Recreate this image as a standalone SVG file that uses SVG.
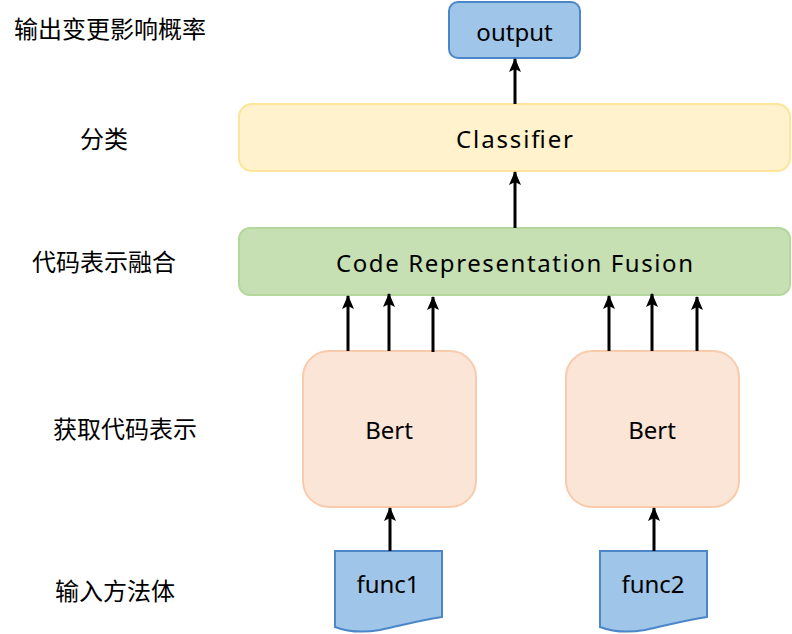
<svg xmlns="http://www.w3.org/2000/svg" width="792" height="634" viewBox="0 0 792 634">
<defs>
<marker id="ah" markerWidth="14" markerHeight="12" refX="13" refY="6" orient="auto" markerUnits="userSpaceOnUse" viewBox="0 0 14 12">
<path d="M0,0 L14,6 L0,12 L3,6 Z" fill="#000"/>
</marker>
<style>
.lbl{font-family:"Noto Sans CJK SC","Noto Sans",sans-serif;font-size:24px;fill:#000}
.t{font-family:"Noto Sans","Open Sans",sans-serif;font-size:24px;fill:#000;text-anchor:middle;dominant-baseline:central}
.blue{fill:#9fc5e8;stroke:#4a86c8;stroke-width:2}
.yel{fill:#fff2cc;stroke:#ffe599;stroke-width:2}
.grn{fill:#c6e0b4;stroke:#b4d89c;stroke-width:2}
.org{fill:#fbe5d6;stroke:#f8cbad;stroke-width:2}
.c{stroke:#000;stroke-width:3;fill:none;marker-end:url(#ah)}
</style>
</defs>
<g id="labels">
<text class="lbl" x="14" y="38">输出变更影响概率</text>
<text class="lbl" x="80" y="148">分类</text>
<text class="lbl" x="32" y="271">代码表示融合</text>
<text class="lbl" x="53" y="438">获取代码表示</text>
<text class="lbl" x="55" y="600">输入方法体</text>
</g>
<g id="output">
<rect class="blue" x="449" y="2" width="131" height="56" rx="9"/>
<text class="t" x="514.5" y="31">output</text>
</g>
<g id="classifier">
<rect class="yel" x="239" y="104" width="551" height="67" rx="13"/>
<text class="t" x="514.5" y="138" textLength="117" lengthAdjust="spacing">Classifier</text>
</g>
<g id="fusion">
<rect class="grn" x="239" y="228" width="551" height="67" rx="11"/>
<text class="t" x="514.5" y="262" textLength="357" lengthAdjust="spacing">Code Representation Fusion</text>
</g>
<g id="bert1">
<rect class="org" x="303" y="351" width="173" height="156" rx="26"/>
<text class="t" x="389" y="429">Bert</text>
</g>
<g id="bert2">
<rect class="org" x="566" y="351" width="173" height="156" rx="26"/>
<text class="t" x="652" y="429">Bert</text>
</g>
<g id="func1">
<path class="blue" d="M335,551 H442 V617 C420,620 400,626 380,630 C362,633 348,632 335,627 Z"/>
<text class="t" x="388" y="583">func1</text>
</g>
<g id="func2">
<path class="blue" d="M600,551 H707 V617 C685,620 665,626 645,630 C627,633 613,632 600,627 Z"/>
<text class="t" x="653" y="583">func2</text>
</g>
<g id="connectors">
<line class="c" x1="515" y1="104" x2="515" y2="59"/>
<line class="c" x1="515" y1="228" x2="515" y2="172"/>
<line class="c" x1="348" y1="351" x2="348" y2="296"/>
<line class="c" x1="389" y1="351" x2="389" y2="294"/>
<line class="c" x1="433" y1="352" x2="433" y2="297"/>
<line class="c" x1="609" y1="351" x2="609" y2="296"/>
<line class="c" x1="652" y1="351" x2="652" y2="294"/>
<line class="c" x1="697" y1="351" x2="697" y2="297"/>
<line class="c" x1="390" y1="551" x2="390" y2="508"/>
<line class="c" x1="654" y1="551" x2="654" y2="508"/>
</g>
</svg>
